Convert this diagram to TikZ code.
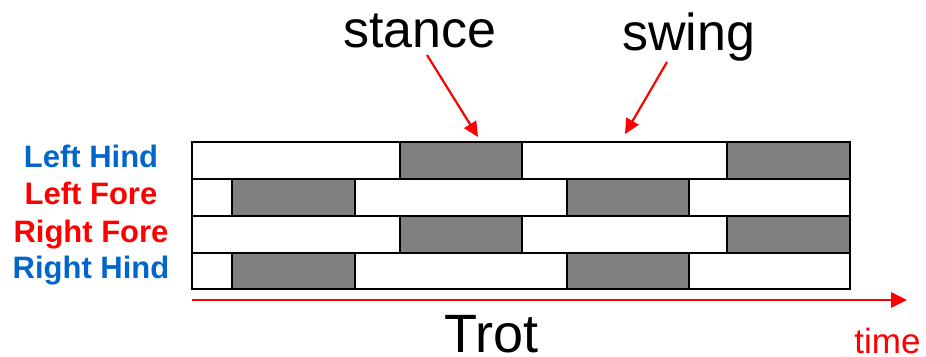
\documentclass[tikz,border=0pt]{standalone}
\usepackage{fontspec}
\setmainfont{Liberation Sans}
\usetikzlibrary{arrows.meta}
\definecolor{lblue}{RGB}{0,102,204}
\definecolor{lred}{RGB}{255,0,0}
\definecolor{stgray}{RGB}{128,128,128}
\tikzset{
  swingseg/.style={draw=black,line width=2.2pt,fill=white},
  stanceseg/.style={draw=black,line width=2.2pt,fill=stgray},
  leglabel/.style={font=\fontsize{31}{31}\selectfont\bfseries,anchor=base,inner sep=0pt},
  bigtext/.style={font=\fontsize{52}{52}\selectfont,anchor=base,inner sep=0pt},
  redarrow/.style={draw=lred,line width=2.6pt,-{Triangle[length=16pt,width=15pt]}},
}
\begin{document}
\begin{tikzpicture}[x=1pt,y=-1pt]
\useasboundingbox (0,0) rectangle (926,356);
% row 1 Left Hind
\draw[swingseg] (192,142) rectangle (400,179);
\draw[stanceseg] (400,142) rectangle (522,179);
\draw[swingseg] (522,142) rectangle (727,179);
\draw[stanceseg] (727,142) rectangle (850,179);
% row 2 Left Fore
\draw[swingseg] (192,179) rectangle (232,216);
\draw[stanceseg] (232,179) rectangle (355,216);
\draw[swingseg] (355,179) rectangle (567,216);
\draw[stanceseg] (567,179) rectangle (689,216);
\draw[swingseg] (689,179) rectangle (850,216);
% row 3 Right Fore
\draw[swingseg] (192,216) rectangle (400,253);
\draw[stanceseg] (400,216) rectangle (522,253);
\draw[swingseg] (522,216) rectangle (727,253);
\draw[stanceseg] (727,216) rectangle (850,253);
% row 4 Right Hind
\draw[swingseg] (192,253) rectangle (232,289);
\draw[stanceseg] (232,253) rectangle (355,289);
\draw[swingseg] (355,253) rectangle (567,289);
\draw[stanceseg] (567,253) rectangle (689,289);
\draw[swingseg] (689,253) rectangle (850,289);
% outer frame
\draw[line width=2.6pt] (192,142) rectangle (850,289);
% labels
\node[leglabel,text=lblue] (lh) at (91,167) {Left Hind};
\node[leglabel,text=lred] (lf) at (91,204) {Left Fore};
\node[leglabel,text=lred] (rf) at (91,242) {Right Fore};
\node[leglabel,text=lblue] (rh) at (91,278) {Right Hind};
% stance / swing
\node[bigtext] (stance) at (420,47) {stance};
\node[bigtext] (swing) at (688.5,50) {swing};
\coordinate (stanceFrom) at (427,55);
\coordinate (stanceTo) at (478,137);
\coordinate (swingFrom) at (667,62);
\coordinate (swingTo) at (625,134);
\draw[redarrow,line width=2.2pt,-{Triangle[length=15pt,width=14pt]}] (stanceFrom) -- (stanceTo);
\draw[redarrow,line width=2.2pt,-{Triangle[length=15pt,width=14pt]}] (swingFrom) -- (swingTo);
% time axis
\coordinate (tStart) at (192,300);
\coordinate (tEnd) at (907,300);
\draw[redarrow] (tStart) -- (tEnd);
\node[font=\fontsize{54}{54}\selectfont,anchor=base,inner sep=0pt,text depth=0pt] (trot) at (491.5,352) {Trot};
\node[font=\fontsize{35}{35}\selectfont,anchor=base,inner sep=0pt,text depth=0pt,text=lred] (time) at (887.5,353) {time};
\end{tikzpicture}
\end{document}
